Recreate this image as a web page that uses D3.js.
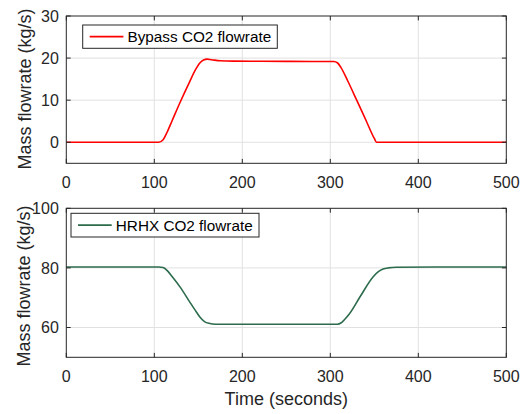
<!DOCTYPE html>
<html><head><meta charset="utf-8">
<script src="https://cdn.jsdelivr.net/npm/d3@7"></script>
<style>
html,body{margin:0;padding:0;background:#fff;}
svg text{font-family:"Liberation Sans",Arial,sans-serif;fill:#262626;}
</style></head>
<body><svg id="chart" width="523" height="414"></svg>
<script>
// ---- data ----
const bypassTime  = [0,100,105,110,115,120,130,140,147,152,156,160,165,175,190,220,250,280,300,304,308,312,320,330,341,350,352.5,355,400,450,500];
const bypassFlow  = [0,0,0,0.6,2.6,5.0,9.8,14.3,17.3,18.9,19.55,19.75,19.62,19.35,19.28,19.25,19.22,19.2,19.2,19.18,18.9,17.8,14.5,10.0,5.0,0.9,0,0,0,0,0];
const hrhxTime    = [0,50,105,110,115,120,130,140,148,152,157,162,170,200,250,300,308,312,316,322,334,349,355,360,366,375,420,500];
const hrhxFlow    = [80.3,80.3,80.3,80.1,79.0,77.2,73.3,68.7,65.1,63.4,62.0,61.4,61.1,61.1,61.1,61.1,61.1,61.5,62.6,64.7,70.4,77.1,78.8,79.6,80.0,80.2,80.3,80.3];
const xTicks      = [0,100,200,300,400,500];
const topYTicks   = [0,10,20,30];
const botYTicks   = [60,80,100];
const seriesNames = ["Bypass CO2 flowrate","HRHX CO2 flowrate"];
const seriesColors= ["#ff0000","#2c6b4c"];
const yLabel = "Mass flowrate (kg/s)";
const xLabel = "Time (seconds)";

// ---- layout ----
const svg = d3.select("#chart");
const L = 66.3, R = 506.3;
const panels = [
  {top:16, bottom:163.3, ydom:[-5,30], yticks:topYTicks, t:bypassTime, v:bypassFlow,
   color:seriesColors[0], name:seriesNames[0], leg:{x:82.7,y:25,w:194.6,h:23.3}, ylabX:31, ylabY:89},
  {top:208.3, bottom:357.3, ydom:[50,100], yticks:botYTicks, t:hrhxTime, v:hrhxFlow,
   color:seriesColors[1], name:seriesNames[1], leg:{x:71,y:213.3,w:188,h:23.7}, ylabX:29.5, ylabY:286}
];
const x = d3.scaleLinear().domain([0,500]).range([L,R]);
const tickLen = 4.4;
const axisCol = "#262626";

panels.forEach(p=>{
  const y = d3.scaleLinear().domain(p.ydom).range([p.bottom,p.top]);
  const g = svg.append("g");
  // grid
  g.selectAll(".gx").data(xTicks.filter(d=>d>0&&d<500)).enter().append("line")
    .attr("x1",d=>x(d)).attr("x2",d=>x(d)).attr("y1",p.top).attr("y2",p.bottom)
    .attr("stroke","#e1e1e1").attr("stroke-width",1);
  g.selectAll(".gy").data(p.yticks.filter(d=>d>p.ydom[0]&&d<p.ydom[1])).enter().append("line")
    .attr("x1",L).attr("x2",R).attr("y1",d=>y(d)).attr("y2",d=>y(d))
    .attr("stroke","#e1e1e1").attr("stroke-width",1);
  // line
  const line = d3.line().x((d,i)=>x(p.t[i])).y((d,i)=>y(p.v[i])).curve(d3.curveMonotoneX);
  g.append("path").datum(p.v).attr("d",line).attr("fill","none")
    .attr("stroke",p.color).attr("stroke-width",1.6);
  // box
  g.append("rect").attr("x",L).attr("y",p.top).attr("width",R-L).attr("height",p.bottom-p.top)
    .attr("fill","none").attr("stroke",axisCol).attr("stroke-width",1);
  // ticks (inward, mirrored)
  xTicks.forEach(d=>{
    g.append("line").attr("x1",x(d)).attr("x2",x(d)).attr("y1",p.bottom).attr("y2",p.bottom-tickLen).attr("stroke",axisCol);
    g.append("line").attr("x1",x(d)).attr("x2",x(d)).attr("y1",p.top).attr("y2",p.top+tickLen).attr("stroke",axisCol);
    g.append("text").attr("x",x(d)).attr("y",p.bottom+24.5).attr("text-anchor","middle")
      .attr("font-size",16).text(d);
  });
  p.yticks.forEach(d=>{
    g.append("line").attr("x1",L).attr("x2",L+tickLen).attr("y1",y(d)).attr("y2",y(d)).attr("stroke",axisCol);
    g.append("line").attr("x1",R).attr("x2",R-tickLen).attr("y1",y(d)).attr("y2",y(d)).attr("stroke",axisCol);
    g.append("text").attr("x",L-7.5).attr("y",y(d)).attr("dy","0.35em").attr("text-anchor","end")
      .attr("font-size",16).text(d);
  });
  // y label
  g.append("text").attr("transform",`translate(${p.ylabX},${p.ylabY}) rotate(-90)`)
    .attr("text-anchor","middle").attr("font-size",18).text(yLabel);
  // legend
  const lg = p.leg;
  g.append("rect").attr("x",lg.x).attr("y",lg.y).attr("width",lg.w).attr("height",lg.h)
    .attr("fill","#fff").attr("stroke",axisCol).attr("stroke-width",1);
  const cy = lg.y+lg.h/2;
  g.append("line").attr("x1",lg.x+7).attr("x2",lg.x+40.7).attr("y1",cy).attr("y2",cy)
    .attr("stroke",p.color).attr("stroke-width",1.6);
  g.append("text").attr("x",lg.x+44.8).attr("y",cy).attr("dy","0.36em").attr("font-size",15.3)
    .style("fill","#000").text(p.name);
});
svg.append("text").attr("x",(L+R)/2).attr("y",404.5).attr("text-anchor","middle")
  .attr("font-size",18).text(xLabel);
</script>
</body></html>
